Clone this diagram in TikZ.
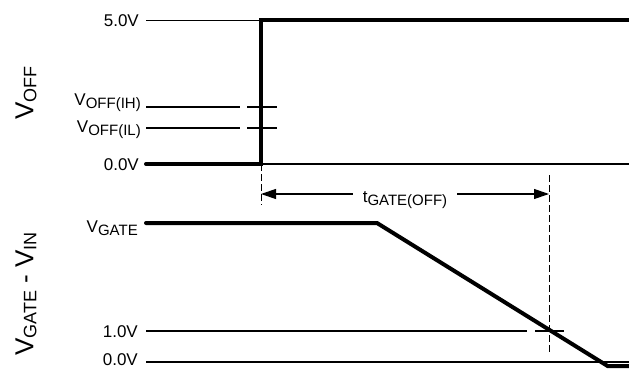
\documentclass[tikz,border=0pt]{standalone}
\usepackage{fontspec}
\setmainfont{Liberation Sans}
\usetikzlibrary{arrows.meta}

% signal name with a lowered, smaller subscript
\newcommand{\sig}[3][15]{#2\raisebox{-3pt}{\fontsize{#1}{#1}\selectfont #3}}

\begin{document}
\begin{tikzpicture}[
  x=1pt,y=-1pt,
  level/.style={line width=1.2pt},
  trace/.style={line width=4pt,line cap=round},
  guide/.style={line width=1pt,dash pattern=on 7pt off 3pt},
  lbl/.style={font=\fontsize{17}{17}\selectfont,anchor=base east,inner sep=0pt},
  axis/.style={font=\fontsize{26}{26}\selectfont,rotate=90,inner sep=0pt}]
  \useasboundingbox (0,0) rectangle (629,369);

% Upper plot: V_OFF step
  \node[axis] (aoff) at (26,93) {\sig[18]{V}{OFF}};
  \node[lbl] (l50) at (139,27) {5.0V};
  \node[lbl] (lih) at (141,105) {\sig{V}{OFF(IH)}};
  \node[lbl] (lil) at (141,132) {\sig{V}{OFF(IL)}};
  \node[lbl] (l00) at (139,170) {0.0V};
  \coordinate (stepA) at (261,164);
  \coordinate (stepB) at (261,20.5);
  \draw[level] (146,20.5) -- (629,20.5);
  \draw[level] (146,164) -- (629,164);
  % thresholds, with a short tick across the edge
  \foreach \y in {107,128}{
    \draw[level] (146,\y) -- (240,\y);
    \draw[level] (247,\y) -- (277,\y);}
  \draw[trace] (146,164) -- (stepA) -- (stepB) -- (640,20.5);

% Delay t_GATE(OFF)
  \coordinate (tl) at (261,194);
  \coordinate (tr) at (549,194);
  \draw[guide] (stepA) -- (261,205);
  \draw[guide] (549,175) -- (549,355);
  \node[font=\fontsize{17}{17}\selectfont,inner xsep=10pt,inner ysep=0pt,anchor=base]
    (tg) at (405,202) {\sig{t}{GATE(OFF)}};
  \draw[level,-{Triangle[length=15pt,width=10pt]}] (tg.west |- tl) -- (tl);
  \draw[level,-{Triangle[length=15pt,width=10pt]}] (tg.east |- tr) -- (tr);

% Lower plot: V_GATE - V_IN ramp
  \node[axis] (agate) at (26,294) {\sig[18]{V}{GATE} - \sig[18]{V}{IN}};
  \node[lbl] (lgate) at (138,232) {\sig{V}{GATE}};
  \node[lbl] (l10) at (138,337) {1.0V};
  \node[lbl] (l00b) at (138,365.5) {0.0V};
  \coordinate (knee) at (377,223);
  \coordinate (floor) at (607.6,366);
  \draw[level] (146,331) -- (527,331);
  \draw[level] (535,331) -- (564,331);
  \draw[level] (146,362) -- (629,362);
  \draw[trace] (146,223) -- (knee) -- (floor) -- (640,366);
\end{tikzpicture}
\end{document}
